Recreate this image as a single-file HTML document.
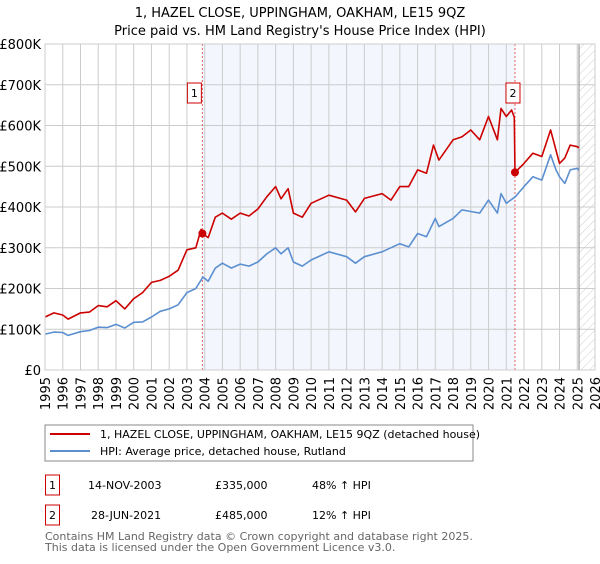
<!DOCTYPE html>
<html><head><meta charset="utf-8"><style>
body{margin:0;background:#fff;font-family:"DejaVu Sans","Liberation Sans",sans-serif;}
svg text{font-family:"DejaVu Sans","Liberation Sans",sans-serif;}
</style></head><body>
<svg id="chart" width="600" height="560" viewBox="0 0 600 560">
<defs><pattern id="hatch" width="6" height="6" patternUnits="userSpaceOnUse" patternTransform="rotate(45)"><line x1="0" y1="0" x2="0" y2="6" stroke="#ccc" stroke-width="1"/></pattern></defs>
<text x="300" y="17" text-anchor="middle" font-size="13" fill="#000">1, HAZEL CLOSE, UPPINGHAM, OAKHAM, LE15 9QZ</text>
<text x="300" y="35" text-anchor="middle" font-size="13" fill="#000">Price paid vs. HM Land Registry's House Price Index (HPI)</text>
<g id="plot"></g>
<rect x="45" y="425" width="428" height="36" fill="#fff" stroke="#888"/>
<line x1="50" y1="434" x2="90" y2="434" stroke="#cc0000" stroke-width="2"/>
<text x="100" y="438" font-size="11">1, HAZEL CLOSE, UPPINGHAM, OAKHAM, LE15 9QZ (detached house)</text>
<line x1="50" y1="451" x2="90" y2="451" stroke="#5b8fd0" stroke-width="2"/>
<text x="100" y="455" font-size="11">HPI: Average price, detached house, Rutland</text>
<g>
<rect x="45.5" y="475" width="14" height="20" fill="#fff" stroke="#cc0000"/><text x="52.5" y="489" text-anchor="middle" font-size="11">1</text>
<text x="88" y="489" font-size="11">14-NOV-2003</text><text x="215" y="489" font-size="11">£335,000</text><text x="312" y="489" font-size="11">48% ↑ HPI</text></g>
<g>
<rect x="45.5" y="505" width="14" height="20" fill="#fff" stroke="#cc0000"/><text x="52.5" y="519" text-anchor="middle" font-size="11">2</text>
<text x="91" y="519" font-size="11">28-JUN-2021</text><text x="215" y="519" font-size="11">£485,000</text><text x="312" y="519" font-size="11">12% ↑ HPI</text></g>
<text x="45" y="540" font-size="11" fill="#666">Contains HM Land Registry data © Crown copyright and database right 2025.</text>
<text x="45" y="551" font-size="11" fill="#666">This data is licensed under the Open Government Licence v3.0.</text>
</svg>
<script>
const hpiYears=[1995,1995.5,1996,1996.3,1997,1997.5,1998,1998.5,1999,1999.5,2000,2000.5,2001,2001.5,2002,2002.5,2003,2003.5,2003.9,2004.2,2004.6,2005,2005.5,2006,2006.5,2007,2007.5,2008,2008.3,2008.7,2009,2009.5,2010,2011,2012,2012.5,2013,2014,2015,2015.5,2016,2016.5,2017,2017.2,2018,2018.5,2019,2019.5,2020,2020.5,2020.7,2021,2021.5,2022,2022.5,2023,2023.5,2023.8,2024,2024.3,2024.6,2025,2025.1];
const hpiValues=[88,93,92,85,94,97,105,104,112,103,117,118,130,144,150,160,190,200,228,218,250,262,250,260,255,265,285,300,285,300,265,255,270,290,278,262,278,290,310,302,335,327,372,352,372,393,389,385,417,385,433,409,425,450,474,466,528,491,474,458,491,495,490];
const priceYears=[1995,1995.5,1996,1996.3,1997,1997.5,1998,1998.5,1999,1999.5,2000,2000.5,2001,2001.5,2002,2002.5,2003,2003.5,2003.8,2003.87,2004.2,2004.6,2005,2005.5,2006,2006.5,2007,2007.5,2008,2008.3,2008.7,2009,2009.5,2010,2011,2012,2012.5,2013,2014,2014.5,2015,2015.5,2016,2016.5,2016.9,2017.2,2018,2018.5,2019,2019.5,2020,2020.5,2020.7,2021,2021.3,2021.45,2021.49,2022,2022.5,2023,2023.5,2023.7,2024,2024.3,2024.6,2025,2025.1];
const priceValues=[130,140,135,125,140,142,158,155,170,150,175,190,215,220,230,245,295,300,345,335,325,375,385,370,385,378,395,425,450,420,445,385,375,409,429,417,388,421,433,417,450,450,491,483,552,515,565,572,589,565,622,565,642,622,638,620,485,507,532,524,589,556,507,520,552,548,545];
const saleYears=[2003.87,2021.49];
const saleValues=[335,485];
const yTicks=[0,100,200,300,400,500,600,700,800];
const yTickLabels=["£0","£100K","£200K","£300K","£400K","£500K","£600K","£700K","£800K"];
const xTicks=[1995,1996,1997,1998,1999,2000,2001,2002,2003,2004,2005,2006,2007,2008,2009,2010,2011,2012,2013,2014,2015,2016,2017,2018,2019,2020,2021,2022,2023,2024,2025,2026];
const L=45,R=595,T=44,B=370;
const xs=y=>L+(y-1995)/(2026-1995)*(R-L);
const ys=v=>B-v/800*(B-T);
const NS="http://www.w3.org/2000/svg";
const g=document.getElementById('plot');
function mk(tag,attrs,parent){const e=document.createElementNS(NS,tag);for(const k in attrs)e.setAttribute(k,attrs[k]);(parent||g).appendChild(e);return e;}
let e;
e=mk('rect',{x:xs(saleYears[0]),y:T,width:xs(saleYears[1])-xs(saleYears[0]),height:B-T,fill:'#f3f6fd'});


e=mk('rect',{x:xs(2025.1),y:T,width:R-xs(2025.1),height:B-T,fill:'url(#hatch)'});


yTicks.forEach((v,i)=>{
 e=mk('line',{x1:L,x2:R,y1:ys(v),y2:ys(v),stroke:'#ccc','stroke-width':1});
 
 
 e=mk('text',{x:L-4,y:ys(v)+5,'text-anchor':'end','font-size':13});
 e.textContent=yTickLabels[i];
 
 
});
xTicks.forEach(y=>{
 e=mk('line',{x1:xs(y),x2:xs(y),y1:T,y2:B,stroke:'#ccc','stroke-width':1});
 
 
 e=mk('text',{x:0,y:0,'text-anchor':'end','font-size':13,transform:`translate(${xs(y)+5},${B+7}) rotate(-90)`});
 e.textContent=y;
 
 
});
e=mk('line',{x1:xs(2025.1),x2:xs(2025.1),y1:T,y2:B,stroke:'#888','stroke-width':1});


saleYears.forEach((y,i)=>{
 e=mk('line',{x1:xs(y),x2:xs(y),y1:T,y2:B,stroke:'#e06060','stroke-width':1,'stroke-dasharray':'2,2'});
 
 
});
function path(xa,va,color,name){
 const d=xa.map((y,i)=>(i?'L':'M')+xs(y).toFixed(1)+','+ys(va[i]).toFixed(1)).join('');
 e=mk('path',{d:d,fill:'none',stroke:color,'stroke-width':1.6,'stroke-linejoin':'round'});
 
 
}
path(hpiYears,hpiValues,'#5b8fd0','hpi-line');
path(priceYears,priceValues,'#cc0000','property-price-line');
saleYears.forEach((y,i)=>{
 e=mk('circle',{cx:xs(y),cy:ys(saleValues[i]),r:4,fill:'#cc0000'});
 
 
 const bx=xs(y)-(i?9:15);
 e=mk('rect',{x:bx,y:83,width:14,height:20,fill:'#fff',stroke:'#cc0000'});
 
 
 e=mk('text',{x:bx+7,y:97,'text-anchor':'middle','font-size':11});
 e.textContent=String(i+1);
 
 
});
e=mk('rect',{x:L,y:T,width:R-L,height:B-T,fill:'none',stroke:'#ccc'});


</script>
</body></html>
